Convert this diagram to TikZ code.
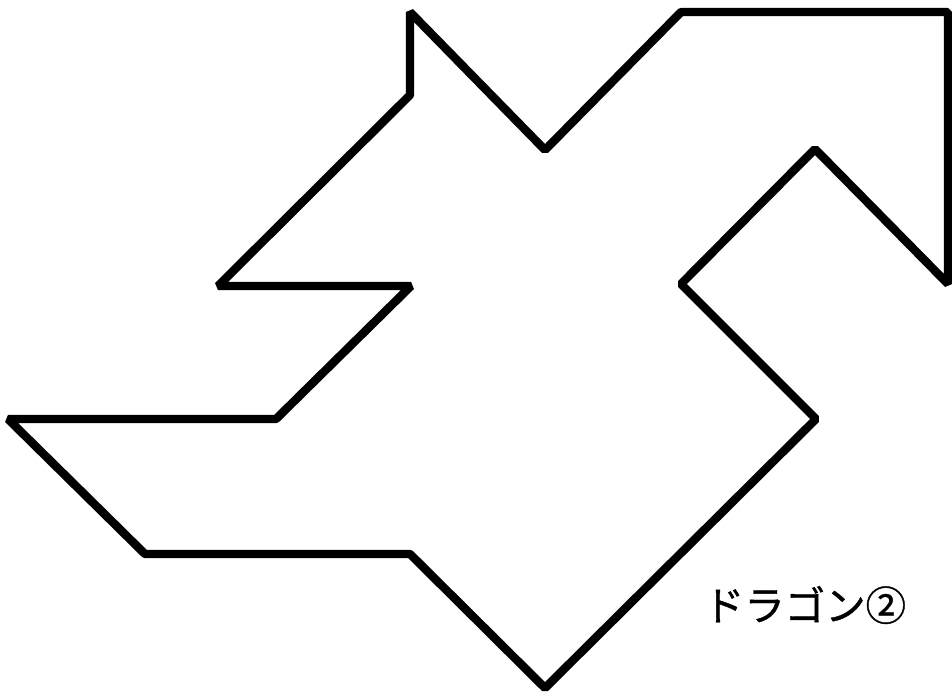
\documentclass[tikz,border=0pt]{standalone}
\usepackage{fontspec}
\usepackage{tikz}
\newfontfamily\jpfont[FakeBold=1]{Noto Sans CJK JP}

\begin{document}
\begin{tikzpicture}[x=0.02cm, y=-0.02cm, every node/.style={font=\jpfont\fontsize{23}{27}\selectfont}]
\tikzstyle{outline}=[draw=black, line width=4.8pt, line join=bevel]
\useasboundingbox (0,0) rectangle (952,698);
% dragon silhouette
\draw[outline] (410,12) -- (410,95) -- (218,286) -- (411,286) -- (276,419) -- (8,419)
  -- (145,554) -- (410,554) -- (545,688) -- (816,419) -- (681,284) -- (815,149)
  -- (948,284) -- (948,12) -- (681,12) -- (545,150) -- cycle;
\node (title) at (805,605) {ドラゴン②};
\end{tikzpicture}
\end{document}
